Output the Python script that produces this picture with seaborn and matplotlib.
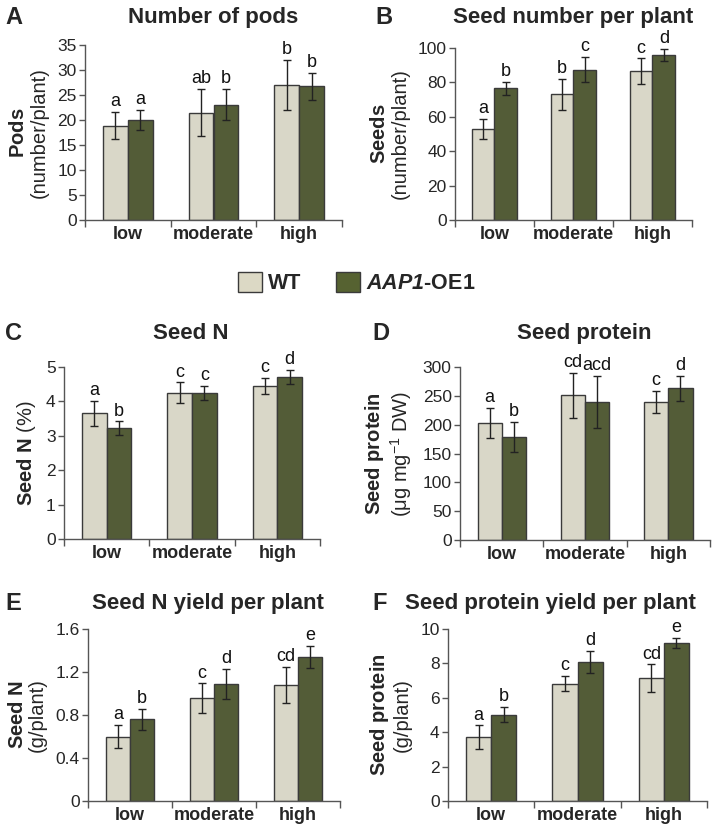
import numpy as np
import pandas as pd
import matplotlib
matplotlib.use('Agg')
import matplotlib.pyplot as plt
import seaborn as sns
from matplotlib.patches import Patch

# Data
levels = ['low', 'moderate', 'high']
genotypes = ['WT', 'AAP1-OE1']

pods_wt = [18.9, 21.5, 27.1]
pods_wt_err = [2.7, 4.7, 5.0]
pods_oe = [20.0, 23.1, 26.8]
pods_oe_err = [2.0, 3.2, 2.7]
pods_letters = ['a', 'ab', 'b', 'a', 'b', 'b']

seeds_wt = [53, 73, 86.5]
seeds_wt_err = [6, 9, 7.5]
seeds_oe = [76.5, 87.5, 96]
seeds_oe_err = [4, 7.5, 3.5]
seeds_letters = ['a', 'b', 'c', 'b', 'c', 'd']

seedn_wt = [3.65, 4.25, 4.45]
seedn_wt_err = [0.37, 0.3, 0.23]
seedn_oe = [3.22, 4.25, 4.72]
seedn_oe_err = [0.2, 0.2, 0.2]
seedn_letters = ['a', 'c', 'c', 'b', 'c', 'd']

prot_wt = [203, 251, 239]
prot_wt_err = [26, 39, 19]
prot_oe = [179, 240, 263]
prot_oe_err = [26, 45, 22]
prot_letters = ['a', 'cd', 'c', 'b', 'acd', 'd']

nyield_wt = [0.60, 0.955, 1.08]
nyield_wt_err = [0.11, 0.14, 0.17]
nyield_oe = [0.76, 1.09, 1.34]
nyield_oe_err = [0.1, 0.14, 0.1]
nyield_letters = ['a', 'c', 'cd', 'b', 'd', 'e']

pyield_wt = [3.7, 6.82, 7.15]
pyield_wt_err = [0.7, 0.45, 0.8]
pyield_oe = [5.02, 8.07, 9.18]
pyield_oe_err = [0.45, 0.65, 0.3]
pyield_letters = ['a', 'c', 'cd', 'b', 'd', 'e']

WT_COL = '#dcd9c5'
OE_COL = '#566231'
EDGE = '#3a3a3a'

sns.set_theme(style='ticks')
plt.rcParams['font.family'] = ['Liberation Sans', 'DejaVu Sans']
plt.rcParams['mathtext.fontset'] = 'custom'
plt.rcParams['mathtext.rm'] = 'Liberation Sans'
plt.rcParams['mathtext.it'] = 'Liberation Sans:italic'
plt.rcParams['mathtext.bf'] = 'Liberation Sans:bold'
plt.rcParams['mathtext.bfit'] = 'Liberation Sans:italic:bold'

W, H = 714, 824
fig = plt.figure(figsize=(W / 100, H / 100), dpi=100)


def box(x0, x1, ytop, ybot):
    return [x0 / W, 1 - ybot / H, (x1 - x0) / W, (ybot - ytop) / H]


def panel(rect, wt, wt_err, oe, oe_err, letters, ymax, step, ylabel, fmt=None, lpad=6):
    ax = fig.add_axes(rect)
    df = pd.DataFrame({
        'level': levels * 2,
        'genotype': [genotypes[0]] * 3 + [genotypes[1]] * 3,
        'value': wt + oe,
    })
    sns.barplot(data=df, x='level', y='value', hue='genotype',
                palette=[WT_COL, OE_COL], width=0.58, edgecolor=EDGE,
                linewidth=1.0, errorbar=None, legend=False, ax=ax)
    errs = wt_err + oe_err
    bars = ax.patches[:6]
    xs = [b.get_x() + b.get_width() / 2 for b in bars]
    ys = [b.get_height() for b in bars]
    ax.errorbar(xs, ys, yerr=errs, fmt='none', ecolor='#222222',
                elinewidth=1.0, capsize=3, capthick=1.0, zorder=5)
    for x, y, e, t in zip(xs, ys, errs, letters):
        ax.text(x, y + e + ymax * 0.01, t, ha='center', va='bottom',
                fontsize=13, color='#111111')
    ax.set_xlim(-0.5, 2.5)
    ax.set_ylim(0, ymax)
    ticks = np.arange(0, ymax + step / 2, step)
    ax.set_yticks(ticks)
    if fmt:
        ax.set_yticklabels([fmt.format(t) for t in ticks])
    ax.set_xticks([0, 1, 2])
    ax.set_xticklabels(levels, fontweight='bold', fontsize=13)
    ax.set_xticks([-0.5, 0.5, 1.5, 2.5], minor=True)
    ax.tick_params(axis='x', which='major', length=0, pad=4)
    ax.tick_params(axis='x', which='minor', length=5, width=1, color='#555555')
    ax.tick_params(axis='y', length=4, width=1, color='#555555',
                   labelsize=12.5, pad=2)
    ax.set_xlabel('')
    ax.set_ylabel(ylabel, fontsize=14.5, labelpad=lpad, linespacing=1.1)
    sns.despine(ax=ax)
    for s in ('left', 'bottom'):
        ax.spines[s].set_color('#555555')
        ax.spines[s].set_linewidth(1.0)
    return ax


panel(box(85, 342, 45, 220), pods_wt, pods_wt_err, pods_oe, pods_oe_err,
      pods_letters, 35, 5, r'$\mathbf{Pods}$' + '\n(number/plant)')
panel(box(455, 692, 48, 220), seeds_wt, seeds_wt_err, seeds_oe, seeds_oe_err,
      seeds_letters, 100, 20, r'$\mathbf{Seeds}$' + '\n(number/plant)')
panel(box(64, 320, 367, 539), seedn_wt, seedn_wt_err, seedn_oe, seedn_oe_err,
      seedn_letters, 5, 1, r'$\mathbf{Seed\ N}$ (%)')
panel(box(460, 710, 367, 540), prot_wt, prot_wt_err, prot_oe, prot_oe_err,
      prot_letters, 300, 50, r'$\mathbf{Seed\ protein}$' + '\n' + r'(μg mg$^{-1}$ DW)')
panel(box(88, 340, 629, 801), nyield_wt, nyield_wt_err, nyield_oe, nyield_oe_err,
      nyield_letters, 1.6, 0.4, r'$\mathbf{Seed\ N}$' + '\n(g/plant)', fmt='{:g}')
panel(box(448, 707, 629, 801), pyield_wt, pyield_wt_err, pyield_oe, pyield_oe_err,
      pyield_letters, 10, 2, r'$\mathbf{Seed\ protein}$' + '\n(g/plant)')

# titles and panel letters
titles = [('A', 5, 'Number of pods', 213, 17),
          ('B', 375, 'Seed number per plant', 573, 17),
          ('C', 5, 'Seed N', 191, 334),
          ('D', 372, 'Seed protein', 584, 334),
          ('E', 5, 'Seed N yield per plant', 208, 603),
          ('F', 372, 'Seed protein yield per plant', 550, 603)]
for letter, lx, title, tx, ty in titles:
    fig.text(lx / W, 1 - ty / H, letter, fontsize=17, fontweight='bold',
             ha='left', va='center')
    fig.text(tx / W, 1 - ty / H, title, fontsize=16, fontweight='bold',
             ha='center', va='center')

handles = [Patch(facecolor=WT_COL, edgecolor=EDGE, linewidth=1.0),
           Patch(facecolor=OE_COL, edgecolor=EDGE, linewidth=1.0)]
fig.legend(handles, ['WT', r'$\mathbfit{AAP1}$-OE1'], loc='center',
           bbox_to_anchor=(0.5, 1 - 283 / H), ncol=2, frameon=False,
           prop={'weight': 'bold', 'size': 15.5}, handlelength=1.1,
           handleheight=1.1, handletextpad=0.3, columnspacing=1.6)

fig.savefig('out.png', dpi=100, facecolor='white')
